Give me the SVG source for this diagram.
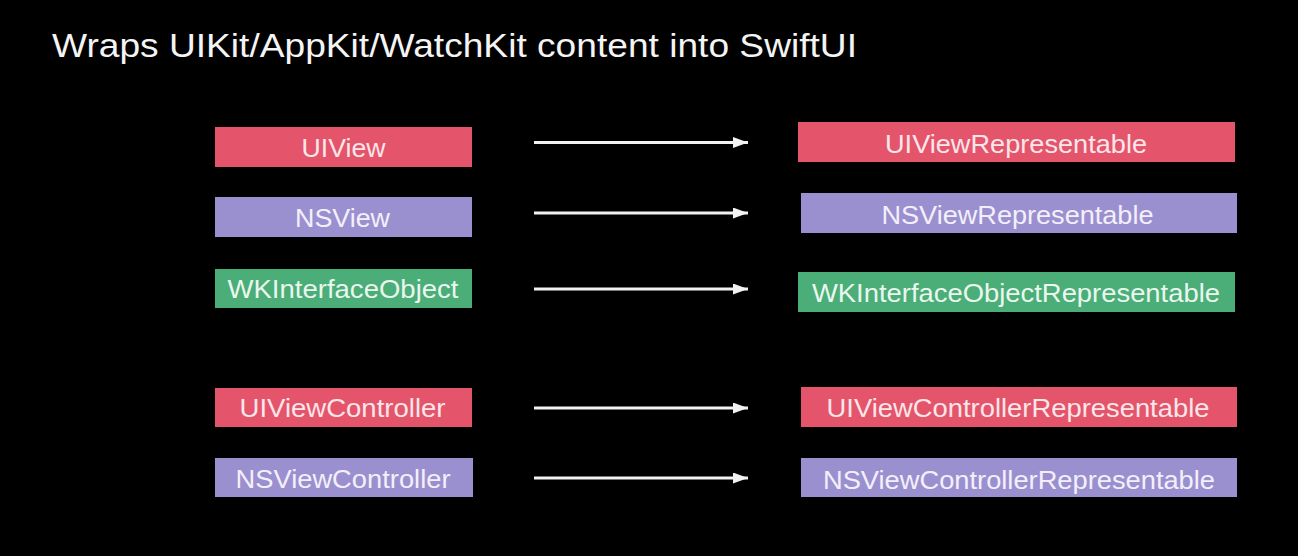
<svg xmlns="http://www.w3.org/2000/svg" width="1298" height="556" viewBox="0 0 1298 556">
<style>
.bg{fill:#000}
.title{font-family:"Liberation Sans",Arial,sans-serif;font-size:33px;fill:#f4f4f4}
.lbl{font-family:"Liberation Sans",Arial,sans-serif;font-size:26px;text-anchor:middle}
.red rect{fill:#e4546b}
.red text{fill:#fbe6ea}
.pur rect{fill:#9b90cf}
.pur text{fill:#f3effa}
.grn rect{fill:#4bad77}
.grn text{fill:#e9f7ee}
.conn line{stroke:#f2f2f2;stroke-width:3}
</style>
<defs>
<marker id="ah" viewBox="0 0 15 11" refX="15" refY="5.5" markerWidth="15" markerHeight="11" markerUnits="userSpaceOnUse" orient="auto">
<path d="M0,0 L15,5.5 L0,11 Z" fill="#f2f2f2"/>
</marker>
</defs>
<rect class="bg" x="0" y="0" width="1298" height="556"/>
<text class="title" x="52" y="57" textLength="805" lengthAdjust="spacingAndGlyphs">Wraps UIKit/AppKit/WatchKit content into SwiftUI</text>

<g id="n-uiview" class="red"><rect x="215" y="127" width="257" height="40"/><text class="lbl" x="343.5" y="157" textLength="84" lengthAdjust="spacingAndGlyphs">UIView</text></g>
<g id="n-nsview" class="pur"><rect x="215" y="197" width="257" height="40"/><text class="lbl" x="342.5" y="227" textLength="95" lengthAdjust="spacingAndGlyphs">NSView</text></g>
<g id="n-wkio" class="grn"><rect x="215" y="269" width="257" height="39"/><text class="lbl" x="343" y="298" textLength="231" lengthAdjust="spacingAndGlyphs">WKInterfaceObject</text></g>
<g id="n-uivc" class="red"><rect x="215" y="388" width="257" height="39"/><text class="lbl" x="342.5" y="417" textLength="206" lengthAdjust="spacingAndGlyphs">UIViewController</text></g>
<g id="n-nsvc" class="pur"><rect x="215" y="458" width="258" height="39"/><text class="lbl" x="343" y="488" textLength="215" lengthAdjust="spacingAndGlyphs">NSViewController</text></g>

<g id="n-uivr" class="red"><rect x="798" y="122" width="437" height="40"/><text class="lbl" x="1016" y="152.5" textLength="262" lengthAdjust="spacingAndGlyphs">UIViewRepresentable</text></g>
<g id="n-nsvr" class="pur"><rect x="801" y="193" width="436" height="40"/><text class="lbl" x="1017.5" y="223.5" textLength="272" lengthAdjust="spacingAndGlyphs">NSViewRepresentable</text></g>
<g id="n-wkior" class="grn"><rect x="798" y="272" width="437" height="40"/><text class="lbl" x="1016" y="302" textLength="408" lengthAdjust="spacingAndGlyphs">WKInterfaceObjectRepresentable</text></g>
<g id="n-uivcr" class="red"><rect x="801" y="387" width="436" height="40"/><text class="lbl" x="1018" y="417" textLength="383" lengthAdjust="spacingAndGlyphs">UIViewControllerRepresentable</text></g>
<g id="n-nsvcr" class="pur"><rect x="801" y="458" width="436" height="39"/><text class="lbl" x="1019" y="488.5" textLength="392" lengthAdjust="spacingAndGlyphs">NSViewControllerRepresentable</text></g>

<g id="connectors" class="conn">
<line x1="534" y1="142.5" x2="748" y2="142.5" marker-end="url(#ah)"/>
<line x1="534" y1="213" x2="748" y2="213" marker-end="url(#ah)"/>
<line x1="534" y1="289" x2="748" y2="289" marker-end="url(#ah)"/>
<line x1="534" y1="408" x2="748" y2="408" marker-end="url(#ah)"/>
<line x1="534" y1="478" x2="748" y2="478" marker-end="url(#ah)"/>
</g>
</svg>
